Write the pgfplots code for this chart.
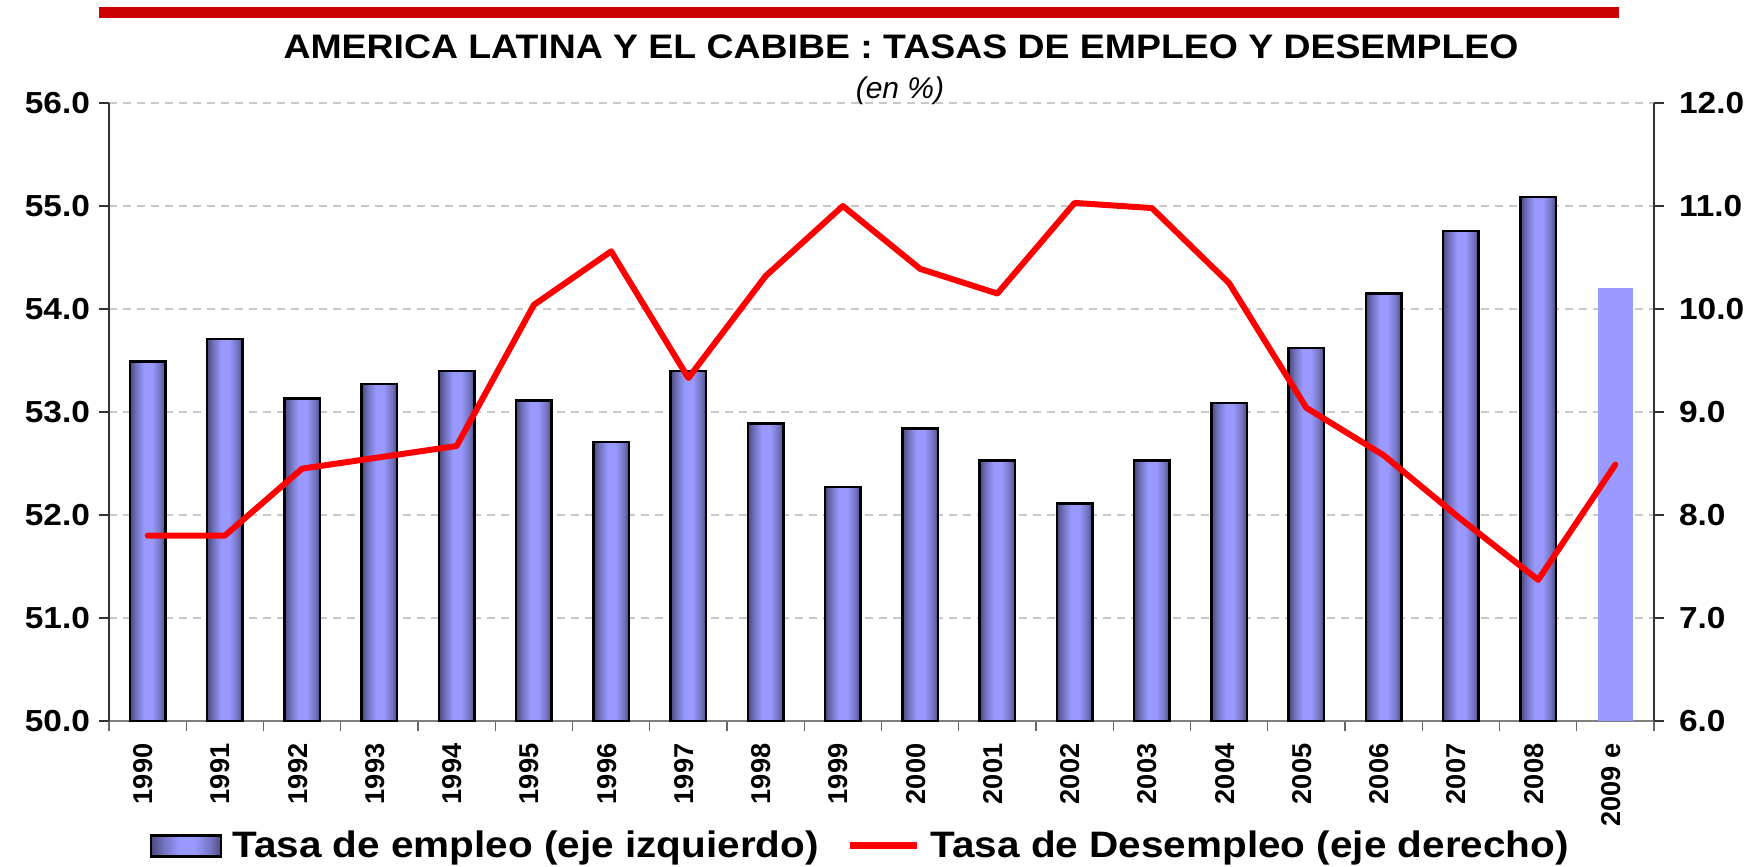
\documentclass[border=0pt]{standalone}
\usepackage{pgfplots}
\usepackage{pgfplotstable}
\pgfplotsset{compat=1.18}
\usepackage{fontspec}
\setmainfont{Liberation Sans}
\newfontfamily\widefont{Liberation Sans}[FakeStretch=1.1]
\definecolor{barlt}{HTML}{9999FF}
\definecolor{bardk}{HTML}{4A4A7E}
\definecolor{barmd}{HTML}{7373C0}
\definecolor{titlered}{HTML}{CC0000}
\definecolor{gridc}{HTML}{C8C8C8}
\pgfdeclarehorizontalshading{barshade}{100bp}{color(0bp)=(bardk); color(25bp)=(bardk); color(34bp)=(barmd); color(45bp)=(barlt); color(56bp)=(barlt); color(68bp)=(barmd); color(75bp)=(bardk); color(100bp)=(bardk)}

\pgfplotstableread{
x emp
0 53.49
1 53.71
2 53.13
3 53.27
4 53.40
5 53.11
6 52.71
7 53.40
8 52.89
9 52.27
10 52.84
11 52.53
12 52.11
13 52.53
14 53.09
15 53.62
16 54.15
17 54.76
18 55.09
}\dataemp
\pgfplotstableread{
x des
0 7.80
1 7.80
2 8.45
3 8.56
4 8.67
5 10.04
6 10.56
7 9.33
8 10.32
9 11.00
10 10.39
11 10.15
12 11.03
13 10.98
14 10.25
15 9.04
16 8.58
17 7.96
18 7.37
19 8.49
}\dataline

\begin{document}
\begin{tikzpicture}
\path[use as bounding box] (-54.5pt,-73pt) rectangle (823.5pt,360.5pt);
\fill[titlered] (-5pt,351.5pt) rectangle (755pt,357pt);
\node[anchor=base, font=\widefont\bfseries\fontsize{17}{17}\selectfont] at (396pt,331pt) {AMERICA LATINA Y EL CABIBE : TASAS DE EMPLEO Y DESEMPLEO};
\node[anchor=base, font=\itshape\fontsize{15}{15}\selectfont] at (395.5pt,311pt) {(en \%)};
\begin{axis}[
  at={(0pt,0pt)}, anchor=south west,
  scale only axis, width=772.5pt, height=309pt,
  xmin=-0.5, xmax=19.5, ymin=50, ymax=56,
  axis x line=bottom, axis y line=left,
  axis line style={-},
  x axis line style={draw=black!50, line width=1pt},
  y axis line style={draw=black!80, line width=0.7pt},
  tick align=outside,
  major tick length=5pt, minor tick length=5pt,
  ytick={50,51,52,53,54,55,56},
  major y tick style={draw=black!80, line width=0.6pt},
  xtick={0,...,19},
  xticklabels={1990,1991,1992,1993,1994,1995,1996,1997,1998,1999,2000,2001,2002,2003,2004,2005,2006,2007,2008,2009 e},
  major x tick style={draw=none},
  minor xtick={-0.5,0.5,...,19.5},
  minor x tick style={draw=black!60, line width=0.6pt},
  xticklabel style={xshift=-2.2pt, yshift=-2.8pt, rotate=90, anchor=east, font=\bfseries\fontsize{13.6}{13.6}\selectfont},
  yticklabel style={xshift=-1pt, font=\widefont\bfseries\fontsize{15.2}{15.2}\selectfont},
  /pgf/number format/.cd, fixed, fixed zerofill, precision=1, assume math mode=true,
  /pgfplots/.cd,
  ymajorgrids,
  major grid style={draw=gridc, dash pattern=on 4pt off 3pt, line width=0.6pt},
  ybar, bar width=0.46, bar shift=0pt,
  legend style={at={(axis description cs:0.487,-0.202)}, anchor=center, draw=none, fill=none,
    legend columns=2, font=\widefont\bfseries\fontsize{18.4}{18.4}\selectfont,
    /tikz/every odd column/.append style={column sep=3pt},
    /tikz/every even column/.append style={column sep=12pt}},
]
\pgfplotsinvokeforeach{0,...,18}{
  \addplot[draw=black, line width=1.2pt, shade, shading=barshade, forget plot,
    restrict x to domain=#1:#1] table[x=x, y=emp] {\dataemp};
}
\addplot[fill=barlt, draw=none, forget plot] coordinates {(19,54.20)};
\addlegendimage{legend image code/.code={\draw[draw=black, line width=1.2pt, shade, shading=barshade] (0pt,-5.25pt) rectangle (35pt,5.25pt);}}
\addlegendentry{Tasa de empleo (eje izquierdo)}
\addlegendimage{legend image code/.code={\draw[red, line width=3.5pt] (0pt,0pt) -- (33.5pt,0pt);}}
\addlegendentry{Tasa de Desempleo (eje derecho)}
\end{axis}
\begin{axis}[
  at={(0pt,0pt)}, anchor=south west,
  scale only axis, width=772.5pt, height=309pt,
  xmin=-0.5, xmax=19.5, ymin=6, ymax=12,
  axis x line=none, axis y line=right,
  axis line style={-},
  y axis line style={draw=black!80, line width=0.7pt},
  tick align=outside, major tick length=5pt,
  ytick={6,7,8,9,10,11,12},
  major y tick style={draw=black!80, line width=0.6pt},
  xtick=\empty,
  yticklabel style={xshift=4pt, font=\widefont\bfseries\fontsize{15.2}{15.2}\selectfont},
  /pgf/number format/.cd, fixed, fixed zerofill, precision=1, assume math mode=true,
]
\addplot[red, line width=3pt, line join=round, line cap=round, mark=none] table[x=x, y=des] {\dataline};
\end{axis}
\end{tikzpicture}
\end{document}
